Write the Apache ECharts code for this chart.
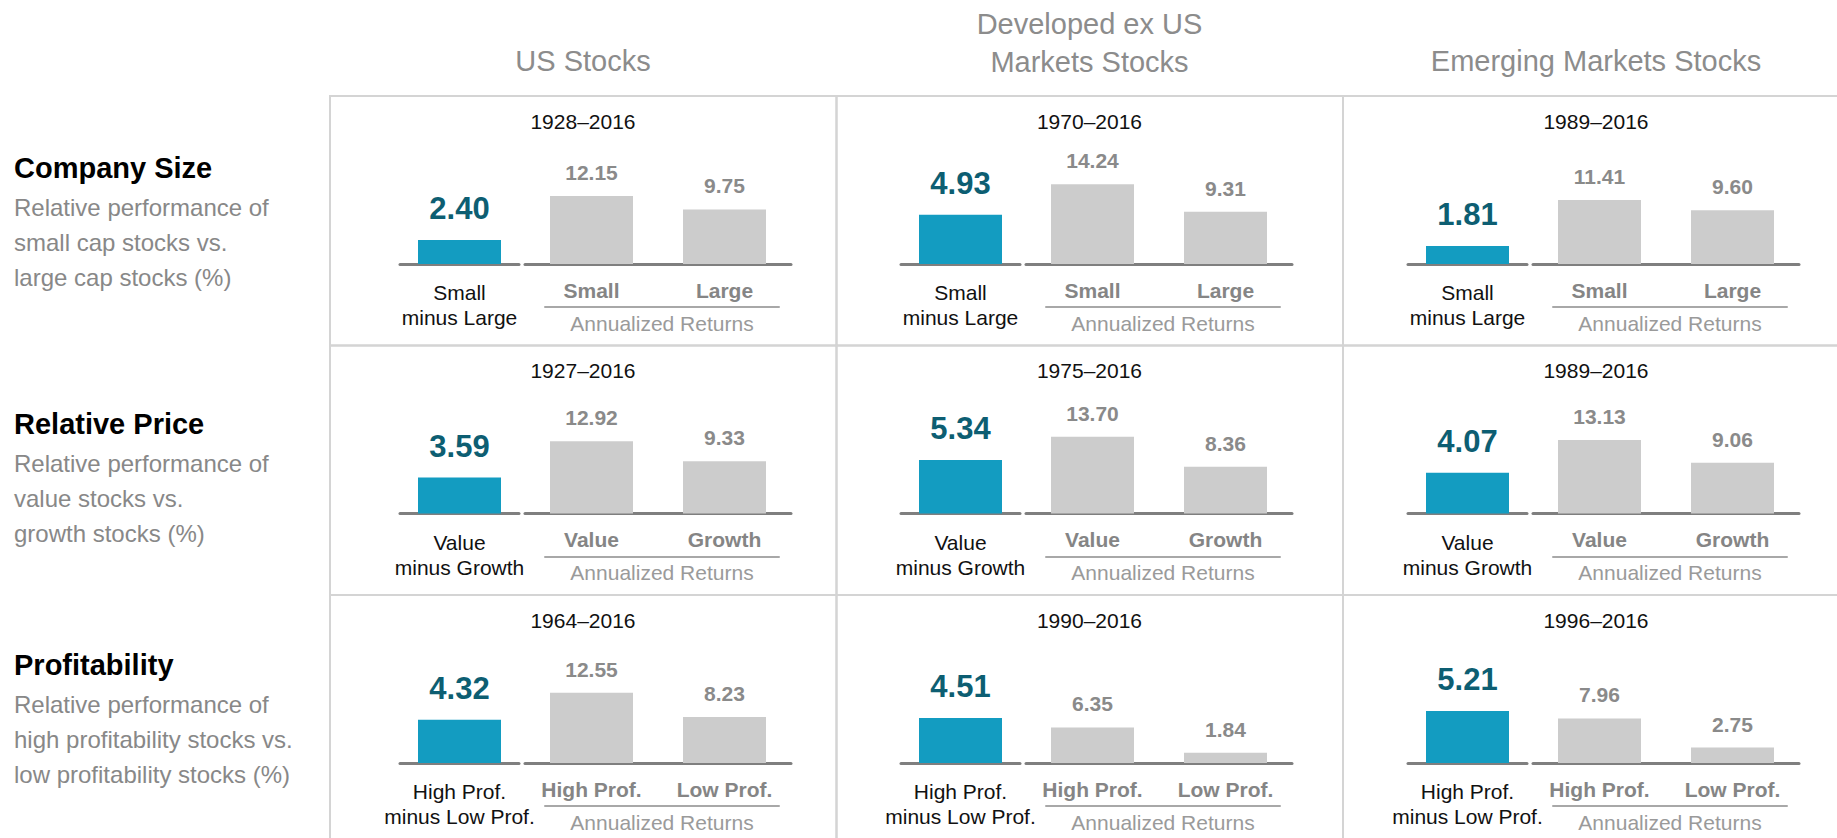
<!DOCTYPE html>
<html>
<head>
<meta charset="utf-8">
<script src="https://cdn.jsdelivr.net/npm/echarts@6/dist/echarts.min.js"></script>
<style>
  html, body { margin: 0; background: #fff; }
  #main { width: 1837px; height: 838px; }
</style>
</head>
<body>
<div id="main"></div>
<script>
/* data */
const columns = ['US Stocks', 'Developed ex US\nMarkets Stocks', 'Emerging Markets Stocks'];
const factors = ['Company Size', 'Relative Price', 'Profitability'];
const factorNotes = [
    'Relative performance of\nsmall cap stocks vs.\nlarge cap stocks (%)',
    'Relative performance of\nvalue stocks vs.\ngrowth stocks (%)',
    'Relative performance of\nhigh profitability stocks vs.\nlow profitability stocks (%)'
];
const periods = [
    ['1928–2016', '1970–2016', '1989–2016'],
    ['1927–2016', '1975–2016', '1989–2016'],
    ['1964–2016', '1990–2016', '1996–2016']
];
const premiumLabels = ['Small\nminus Large', 'Value\nminus Growth', 'High Prof.\nminus Low Prof.'];
const returnLabels = [['Small', 'Large'], ['Value', 'Growth'], ['High Prof.', 'Low Prof.']];
const returnsCaption = 'Annualized Returns';

// premium (blue), then the two annualized returns (gray) for each factor row / market column
const premium = [[2.40, 4.93, 1.81], [3.59, 5.34, 4.07], [4.32, 4.51, 5.21]];
const returnsHigh = [[12.15, 14.24, 11.41], [12.92, 13.70, 13.13], [12.55, 6.35, 7.96]];
const returnsLow = [[9.75, 9.31, 9.60], [9.33, 8.36, 9.06], [8.23, 1.84, 2.75]];

const FONT = "'Liberation Sans', Arial, sans-serif";
const rowPitch = 249.5;
const colPitch = 506.5;
const panelShift = [0, 501, 1008];
const colLeft = c => 330 + c * colPitch;
const baseY = r => 264 + r * rowPitch;
const titleY = [168, 424, 665];

var grids = [], xAxes = [], yAxes = [], series = [], titles = [], graphics = [];

function addGrid(g, x, y) {
    grids.push(Object.assign({ outerBoundsMode: 'none', containLabel: false }, g));
    const i = grids.length - 1;
    xAxes.push(Object.assign({ gridIndex: i, type: 'category', axisTick: { show: false } }, x));
    yAxes.push(Object.assign({ gridIndex: i, type: 'value', show: false, min: 0 }, y));
    return i;
}

const fmt = p => p.value.toFixed(2);

for (let r = 0; r < 3; r++) {
    for (let c = 0; c < 3; c++) {
        const dx = panelShift[c];
        const base = baseY(r);

        // cell frame
        graphics.push({
            type: 'rect', silent: true,
            shape: { x: colLeft(c), y: 96 + r * rowPitch, width: colPitch, height: rowPitch },
            style: { fill: 'none', stroke: '#d4d4d4', lineWidth: 2 }
        });

        // period
        titles.push({
            text: periods[r][c], left: colLeft(c) + 253, top: 121 + r * rowPitch - 12,
            textAlign: 'center', padding: 0,
            textStyle: { fontSize: 21, fontWeight: 'normal', color: '#111', lineHeight: 24, fontFamily: FONT }
        });

        // premium bar
        let g = addGrid(
            { left: 400 + dx, width: 119, top: base - 100, height: 100 },
            {
                data: [premiumLabels[r]],
                axisLine: { lineStyle: { color: '#7f7f7f', width: 3 } },
                axisLabel: { color: '#111', fontSize: 21, lineHeight: 25, margin: 16, fontFamily: FONT }
            },
            { max: 10 }
        );
        series.push({
            type: 'bar', xAxisIndex: g, yAxisIndex: g, silent: true,
            data: [premium[r][c]], barWidth: 83,
            itemStyle: { color: '#139cc1' },
            label: {
                show: true, position: 'top', distance: 16, formatter: fmt,
                color: '#0d5e72', fontSize: 31, lineHeight: 31, fontWeight: 'bold', fontFamily: FONT
            }
        });

        // annualized returns bars
        g = addGrid(
            { left: 525 + dx, width: 266, top: base - 112, height: 112 },
            {
                data: returnLabels[r],
                axisLine: { lineStyle: { color: '#7f7f7f', width: 3 } },
                axisLabel: { color: '#858585', fontSize: 21, lineHeight: 22, fontWeight: 'bold', margin: 15, fontFamily: FONT }
            },
            { max: 20 }
        );
        series.push({
            type: 'bar', xAxisIndex: g, yAxisIndex: g, silent: true,
            data: [returnsHigh[r][c], returnsLow[r][c]], barWidth: 83,
            itemStyle: { color: '#cccccc' },
            label: {
                show: true, position: 'top', distance: 13, formatter: fmt,
                color: '#8a8a8a', fontSize: 21, lineHeight: 21, fontWeight: 'bold', fontFamily: FONT
            }
        });

        // underline + caption
        addGrid(
            { left: 545 + dx, width: 234, top: base + 42, height: 1 },
            {
                data: [''],
                axisLine: { lineStyle: { color: '#a8a8a8', width: 2 } },
                axisLabel: { show: false },
                name: returnsCaption, nameLocation: 'middle', nameGap: 5, nameMoveOverlap: false,
                nameTextStyle: { color: '#9a9a9a', fontSize: 21, lineHeight: 22, fontFamily: FONT }
            },
            { max: 1 }
        );
    }
}

// column headers
columns.forEach((name, c) => {
    titles.push({
        text: name, left: colLeft(c) + 253, top: name.indexOf('\n') >= 0 ? 4.5 : 42,
        textAlign: 'center', padding: 0,
        textStyle: { fontSize: 29, fontWeight: 'normal', color: '#8c8c8c', lineHeight: 38, fontFamily: FONT }
    });
});

// row headers
factors.forEach((name, r) => {
    titles.push({
        text: name, subtext: factorNotes[r], left: 14, top: titleY[r] - 15, padding: 0, itemGap: 7,
        textStyle: { fontSize: 29, fontWeight: 'bold', color: '#000', lineHeight: 30, fontFamily: FONT },
        subtextStyle: { fontSize: 24, color: '#888888', lineHeight: 35, fontFamily: FONT }
    });
});

var option = {
    backgroundColor: '#fff',
    animation: false,
    title: titles,
    grid: grids,
    xAxis: xAxes,
    yAxis: yAxes,
    series: series,
    graphic: graphics
};

var myChart = echarts.init(document.getElementById('main'), null, { renderer: 'svg' });
myChart.setOption(option);
</script>
</body>
</html>
